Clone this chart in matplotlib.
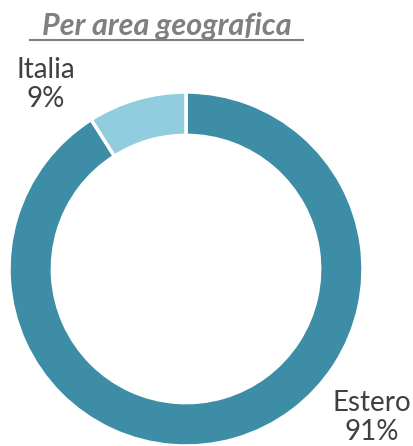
import matplotlib.pyplot as plt
from matplotlib.lines import Line2D

labels = ['Estero', 'Italia']
values = [91, 9]
colors = ['#3C8DA5', '#92CDDF']

plt.rcParams['font.family'] = ['Lato', 'DejaVu Sans']

W, H = 414, 446
fig = plt.figure(figsize=(W / 100, H / 100), dpi=100)

# donut centre and radius in pixels
cx, cy, r = 186, 177, 177
ax = fig.add_axes([(cx - r) / W, (cy - r) / H, 2 * r / W, 2 * r / H])
ax.pie(values, colors=colors, startangle=90, counterclock=False, radius=1,
       wedgeprops=dict(width=0.245, edgecolor='white', linewidth=2.5))
ax.set_xlim(-1, 1)
ax.set_ylim(-1, 1)
ax.set_aspect('equal')
ax.axis('off')

label_pos = {'Italia': (-0.79, 1.04), 'Estero': (1.05, -0.84)}
for lab, val in zip(labels, values):
    x, y = label_pos[lab]
    ax.text(x, y, f'{lab}\n{val}%', ha='center', va='center', fontsize=20,
            color='#404040', linespacing=1.15, clip_on=False)

fig.text(167 / W, 1 - 35 / H, 'Per area geografica', ha='center', va='baseline',
         fontsize=22, fontweight='bold', fontstyle='italic', color='#7F7F7F')
fig.add_artist(Line2D([30 / W, 303 / W], [1 - 40 / H, 1 - 40 / H],
                      color='#7F7F7F', linewidth=1.5, transform=fig.transFigure))

fig.savefig('out.png', dpi=100)
